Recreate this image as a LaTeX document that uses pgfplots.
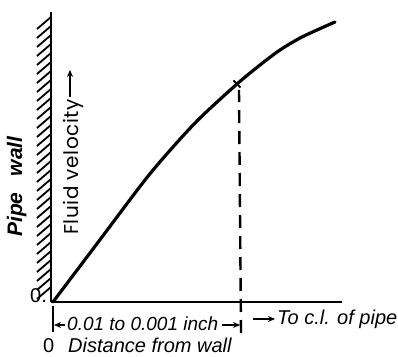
\documentclass[border=0pt]{standalone}
\usepackage{fontspec}
\setmainfont{Liberation Sans}
\newfontfamily\geofont[LetterSpace=3]{Poppins}
\usepackage{pgfplots}
\pgfplotsset{compat=1.18}
\usetikzlibrary{arrows.meta}
\begin{document}
\begin{tikzpicture}
\begin{axis}[scale only axis, width=398pt, height=356pt,
  xmin=-53, xmax=345, ymin=-54, ymax=302,
  hide axis, clip=false, unbounded coords=jump]
\addplot[draw=none] coordinates {(-53,-54) (345,302)};
% pipe wall
\addplot[line width=2.5pt] coordinates {(-2,0) (-2,290)};
\addplot[line width=1.8pt] coordinates {
(-16,3) (-2,15) (nan,nan)
(-16,12) (-2,24) (nan,nan)
(-16,21) (-2,33) (nan,nan)
(-16,30) (-2,42) (nan,nan)
(-16,39) (-2,51) (nan,nan)
(-16,48) (-2,60) (nan,nan)
(-16,57) (-2,69) (nan,nan)
(-16,66) (-2,78) (nan,nan)
(-16,75) (-2,87) (nan,nan)
(-16,84) (-2,96) (nan,nan)
(-16,93) (-2,105) (nan,nan)
(-16,102) (-2,114) (nan,nan)
(-16,111) (-2,123) (nan,nan)
(-16,120) (-2,132) (nan,nan)
(-16,129) (-2,141) (nan,nan)
(-16,138) (-2,150) (nan,nan)
(-16,147) (-2,159) (nan,nan)
(-16,156) (-2,168) (nan,nan)
(-16,165) (-2,177) (nan,nan)
(-16,174) (-2,186) (nan,nan)
(-16,183) (-2,195) (nan,nan)
(-16,192) (-2,204) (nan,nan)
(-16,201) (-2,213) (nan,nan)
(-16,210) (-2,222) (nan,nan)
(-16,219) (-2,231) (nan,nan)
(-16,228) (-2,240) (nan,nan)
(-16,237) (-2,249) (nan,nan)
(-16,246) (-2,258) (nan,nan)
(-16,255) (-2,267) (nan,nan)
(-16,264) (-2,276) (nan,nan)
(-16,273) (-2,285)
};
% distance axis
\addplot[line width=2pt] coordinates {(-2,0) (289,0)};
% velocity profile
\addplot[line width=3.2pt, smooth, tension=0.5, line cap=round] coordinates {
(0,0) (46,61) (92,122) (120,155) (147,184) (184,218) (207,237) (227,252) (247,264) (264,272) (282,280)};
% dashed line
\addplot[line width=2.4pt, dash pattern=on 13pt off 8pt] coordinates {(188,-31) (186,212)};
\addplot[only marks, mark=x, mark size=5pt, mark options={line width=2pt}] coordinates {(184,218)};
% dimension marks
\addplot[line width=1.8pt] coordinates {(0,-4) (0,-30)};
\addplot[line width=1.5pt, -{Stealth[length=7pt,width=6pt]}] coordinates {(12,-23) (1,-23)};
\addplot[line width=1.5pt, -{Stealth[length=7pt,width=6pt]}] coordinates {(169,-23) (187,-23)};
\addplot[line width=1.5pt, -{Stealth[length=7pt,width=6pt]}] coordinates {(200,-17) (222,-17)};
\addplot[line width=1.5pt, -{Stealth[length=7pt,width=6pt]}] coordinates {(17,205) (17,232)};
% texts
\node[anchor=base west, inner sep=0pt, font=\fontsize{19}{19}\selectfont\itshape] at (axis cs:14,-28) {0.01 to 0.001 inch};
\node[anchor=base west, inner sep=0pt, font=\fontsize{20}{20}\selectfont\itshape] at (axis cs:224,-22) {To c.l. of pipe};
\node[anchor=base west, inner sep=0pt, font=\fontsize{20}{20}\selectfont\itshape] at (axis cs:15,-50) {Distance from wall};
\node[anchor=base west, inner sep=0pt, font=\fontsize{20}{20}\selectfont] at (axis cs:-10,-50) {0};
\node[anchor=base west, inner sep=0pt, font=\fontsize{20}{20}\selectfont] at (axis cs:-23,0) {0.};
\node[rotate=90, anchor=base west, inner sep=0pt, font=\fontsize{21}{21}\selectfont\bfseries\itshape] at (axis cs:-31,65) {Pipe\hspace{0.5em} wall};
\node[rotate=90, anchor=base west, inner sep=0pt, font=\fontsize{20}{20}\geofont] at (axis cs:25,67) {Fluid velocity};
\end{axis}
\end{tikzpicture}
\end{document}
